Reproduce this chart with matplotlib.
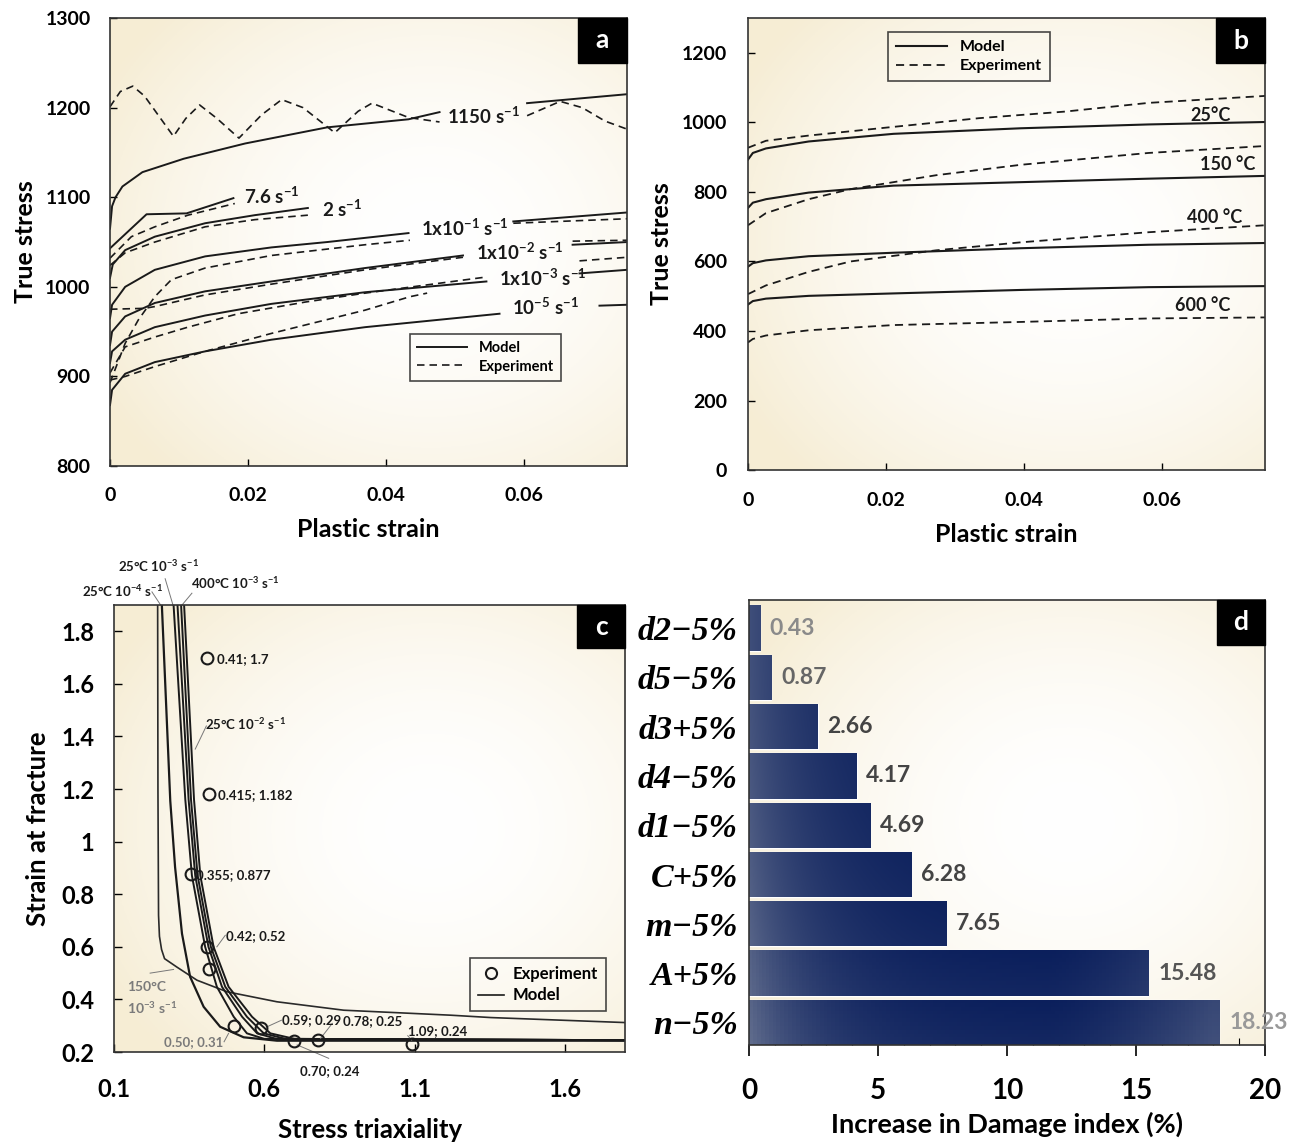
import numpy as np
import matplotlib
matplotlib.use('Agg')
import matplotlib.pyplot as plt
from matplotlib.patches import Rectangle
from matplotlib.lines import Line2D
from matplotlib.ticker import MultipleLocator

plt.rcParams['font.family'] = ['Lato', 'DejaVu Sans']
plt.rcParams['font.weight'] = 'bold'
plt.rcParams['mathtext.default'] = 'regular'

nan = np.nan

# ---- panel a : strain-rate curves (plastic strain, true stress) ----
a_m1150_s = [0.0, 0.0003, 0.0008, 0.0018, 0.0047, 0.0107, 0.0196, 0.0315, 0.0433, 0.0478, nan, 0.0605, 0.075]
a_m1150_v = [1065, 1090, 1100, 1112, 1128, 1143, 1160, 1178, 1187, 1195, nan, 1205, 1215]
a_e1150_s = [0.0, 0.0015, 0.0033, 0.005, 0.0092, 0.011, 0.013, 0.0155, 0.0187, 0.022, 0.0249, 0.028, 0.0326,
             0.036, 0.038, 0.0433, 0.0478, nan, 0.0605, 0.0653, 0.0685, 0.0718, 0.075]
a_e1150_v = [1201, 1218, 1224, 1213, 1168, 1188, 1203, 1188, 1166, 1192, 1209, 1200, 1172,
             1196, 1205, 1189, 1184, nan, 1191, 1207, 1200, 1185, 1176]
a_m76_s = [0.0, 0.0053, 0.0111, 0.0179]
a_m76_v = [1043, 1081, 1082, 1099]
a_e76_s = [0.0, 0.0031, 0.0065, 0.0113, 0.0181]
a_e76_v = [1032, 1056, 1067, 1080, 1093]
a_m2_s = [0.0, 0.0004, 0.0022, 0.0065, 0.0138, 0.021, 0.0287]
a_m2_v = [1010, 1025, 1041, 1056, 1071, 1080, 1088]
a_e2_s = [0.0, 0.0022, 0.0065, 0.0138, 0.021, 0.0287]
a_e2_v = [1024, 1038, 1050, 1067, 1075, 1080]
a_m1e1_s = [0.0, 0.0003, 0.0022, 0.0065, 0.0138, 0.0234, 0.0315, 0.0433, nan, 0.0585, 0.075]
a_m1e1_v = [965, 980, 1000, 1019, 1034, 1044, 1050, 1060, nan, 1073, 1083]
a_e1e1_s = [0.0, 0.0007, 0.0022, 0.0041, 0.0065, 0.0089, 0.0138, 0.0234, 0.037, 0.0435, nan, 0.0585, 0.075]
a_e1e1_v = [893, 907, 937, 963, 989, 1008, 1021, 1035, 1047, 1052, nan, 1071, 1076]
a_m1e2_s = [0.0, 0.0003, 0.0022, 0.0065, 0.0138, 0.0234, 0.037, 0.0512, nan, 0.0671, 0.075]
a_m1e2_v = [935, 950, 967, 982, 995, 1006, 1021, 1035, nan, 1047, 1050]
a_e1e2_s = [0.0, 0.005, 0.0065, 0.0138, 0.0234, 0.037, 0.0512, nan, 0.0671, 0.075]
a_e1e2_v = [975, 976, 978, 991, 1003, 1019, 1033, nan, 1051, 1052]
a_m1e3_s = [0.0, 0.0003, 0.0022, 0.0065, 0.0138, 0.0234, 0.037, 0.0546, nan, 0.0681, 0.075]
a_m1e3_v = [915, 928, 941, 955, 968, 981, 994, 1006, nan, 1015, 1019]
a_e1e3_s = [0.0, 0.0022, 0.0065, 0.0113, 0.0186, 0.0283, 0.037, 0.0546, nan, 0.0681, 0.075]
a_e1e3_v = [904, 933, 944, 955, 970, 983, 993, 1011, nan, 1029, 1033]
a_m1e5_s = [0.0, 0.0003, 0.0022, 0.0065, 0.0138, 0.0234, 0.037, 0.0565, nan, 0.071, 0.075]
a_m1e5_v = [868, 885, 903, 916, 928, 941, 955, 970, nan, 979, 980]
a_e1e5_s = [0.0, 0.0022, 0.0065, 0.0138, 0.0234, 0.037, 0.0435, 0.046]
a_e1e5_v = [896, 900, 911, 928, 948, 974, 989, 993]
a_rate_labels = ['1150 s$^{-1}$', '7.6 s$^{-1}$', '2 s$^{-1}$', '1x10$^{-1}$ s$^{-1}$',
                 '1x10$^{-2}$ s$^{-1}$', '1x10$^{-3}$ s$^{-1}$', '10$^{-5}$ s$^{-1}$']
a_label_s = [0.0542, 0.0235, 0.0336, 0.0515, 0.0595, 0.0628, 0.0632]
a_label_v = [1191, 1101, 1087, 1066, 1039, 1010, 977]

# ---- panel b : temperature curves ----
b_s_m = [0.0, 0.0007, 0.0026, 0.0088, 0.0211, 0.0396, 0.0581, 0.075]
b_m25_v = [893, 912, 925, 945, 967, 983, 994, 1001]
b_m150_v = [754, 769, 779, 798, 818, 828, 838, 846]
b_m400_v = [585, 595, 603, 615, 625, 638, 648, 653]
b_m600_v = [476, 486, 493, 501, 508, 518, 526, 529]
b_e25_s = [0.0, 0.0026, 0.0088, 0.0211, 0.0335, 0.046, 0.0581, 0.075]
b_e25_v = [927, 947, 962, 987, 1012, 1031, 1056, 1076]
b_e150_s = [0.0, 0.0026, 0.0088, 0.0149, 0.0273, 0.0396, 0.0581, 0.075]
b_e150_v = [704, 739, 779, 808, 848, 878, 912, 932]
b_e400_s = [0.0, 0.0026, 0.0088, 0.0149, 0.0273, 0.0396, 0.0581, 0.075]
b_e400_v = [506, 531, 570, 600, 632, 655, 684, 704]
b_e600_s = [0.0, 0.0007, 0.0026, 0.0088, 0.0211, 0.0396, 0.0581, 0.075]
b_e600_v = [367, 377, 387, 402, 417, 426, 436, 439]
b_temp_labels = ['25°C', '150 °C', '400 °C', '600 °C']
b_label_s = [0.0671, 0.0696, 0.0677, 0.0659]
b_label_v = [1021, 878, 727, 473]

# ---- panel c : fracture locus (stress triaxiality, strain at fracture) ----
c_150_x = [0.245, 0.246, 0.248, 0.251, 0.258, 0.268, 0.309, 0.376, 0.476, 0.642, 0.864, 1.22, 1.354, 1.8]
c_150_y = [1.9, 1.2, 0.72, 0.64, 0.59, 0.555, 0.523, 0.473, 0.429, 0.391, 0.359, 0.340, 0.331, 0.312]
c_25r4_x = [0.259, 0.287, 0.303, 0.326, 0.353, 0.398, 0.453, 0.531, 0.642, 1.8]
c_25r4_y = [1.9, 1.155, 0.903, 0.65, 0.486, 0.372, 0.296, 0.256, 0.243, 0.243]
c_loc_y = [1.9, 1.16, 0.871, 0.6, 0.448, 0.334, 0.271, 0.25, 0.245]
c_loc1_x = [0.298, 0.337, 0.359, 0.403, 0.442, 0.498, 0.542, 0.60, 1.8]
c_loc2_x = [0.311, 0.348, 0.370, 0.414, 0.459, 0.526, 0.576, 0.64, 1.8]
c_loc3_x = [0.323, 0.356, 0.378, 0.422, 0.470, 0.542, 0.598, 0.67, 1.8]
c_loc4_x = [0.333, 0.366, 0.387, 0.431, 0.481, 0.559, 0.620, 0.70, 1.8]
c_exp_x = [0.41, 0.415, 0.355, 0.41, 0.415, 0.50, 0.59, 0.70, 0.78, 1.09]
c_exp_y = [1.70, 1.182, 0.877, 0.60, 0.515, 0.30, 0.29, 0.24, 0.245, 0.23]

# ---- panel d : sensitivity ----
d_params = ['d2−5%', 'd5−5%', 'd3+5%', 'd4−5%', 'd1−5%', 'C+5%', 'm−5%', 'A+5%', 'n−5%']
d_increase = [0.43, 0.87, 2.66, 4.17, 4.69, 6.28, 7.65, 15.48, 18.23]

INK = '#1a1a1a'
DASH = (0, (4.5, 3))


def add_panel(fig, rect):
    # cream vignette behind the plotting area
    bg = fig.add_axes(rect, zorder=0)
    yy, xx = np.mgrid[0:1:200j, 0:1:200j]
    r = np.sqrt((xx - 0.62) ** 2 + (yy - 0.5) ** 2) / 0.72
    t = np.clip(r, 0, 1)[..., None] ** 1.8
    cream = np.array([0.965, 0.93, 0.835])
    img = (1 - t) * np.ones(3) + t * cream
    bg.imshow(img, extent=(0, 1, 0, 1), aspect='auto', origin='lower')
    bg.axis('off')
    ax = fig.add_axes(rect, zorder=1)
    ax.patch.set_alpha(0)
    for sp in ax.spines.values():
        sp.set_linewidth(1.2)
        sp.set_color('#333333')
    return ax


def panel_tag(ax, letter, w, h):
    ax.add_patch(Rectangle((1 - w, 1 - h), w, h, transform=ax.transAxes,
                           color='black', zorder=6, clip_on=False))
    ax.text(1 - w / 2, 1 - h / 2, letter, transform=ax.transAxes, color='white',
            fontsize=19, fontweight='bold', ha='center', va='center', zorder=7)


fig = plt.figure(figsize=(13.05, 11.42), dpi=100)

# ================= a =================
ax = add_panel(fig, [0.0843, 0.5919, 0.3962, 0.3923])
models = [(a_m1150_s, a_m1150_v), (a_m76_s, a_m76_v), (a_m2_s, a_m2_v), (a_m1e1_s, a_m1e1_v),
          (a_m1e2_s, a_m1e2_v), (a_m1e3_s, a_m1e3_v), (a_m1e5_s, a_m1e5_v)]
exps = [(a_e1150_s, a_e1150_v), (a_e76_s, a_e76_v), (a_e2_s, a_e2_v), (a_e1e1_s, a_e1e1_v),
        (a_e1e2_s, a_e1e2_v), (a_e1e3_s, a_e1e3_v), (a_e1e5_s, a_e1e5_v)]
for s, v in models:
    ax.plot(s, v, color=INK, lw=1.4)
for s, v in exps:
    ax.plot(s, v, color=INK, lw=1.2, ls=DASH)
for lab, s, v in zip(a_rate_labels, a_label_s, a_label_v):
    ax.text(s, v, lab, fontsize=13.5, fontweight='bold', ha='center', va='center', color=INK)
ax.set_xlim(0, 0.075)
ax.set_ylim(800, 1300)
ax.set_xticks([0, 0.02, 0.04, 0.06], ['0', '0.02', '0.04', '0.06'])
ax.set_yticks(range(800, 1301, 100))
ax.tick_params(direction='in', labelsize=14, length=5, width=1)
ax.tick_params(axis='x', pad=15)
ax.tick_params(axis='y', pad=14)
ax.set_xlabel('Plastic strain', fontsize=18, fontweight='bold', labelpad=10)
ax.set_ylabel('True stress', fontsize=18, fontweight='bold', labelpad=6)
h = [Line2D([], [], color=INK, lw=1.4), Line2D([], [], color=INK, lw=1.2, ls=DASH)]
leg = ax.legend(h, ['Model', 'Experiment'], loc='upper left', bbox_to_anchor=(0.58, 0.295),
                borderaxespad=0, fancybox=False, edgecolor=INK, facecolor='none',
                fontsize=10.5, handlelength=3.4, labelspacing=0.3, borderpad=0.5)
leg.get_frame().set_linewidth(1.2)
panel_tag(ax, 'a', 0.095, 0.1)

# ================= b =================
ax = add_panel(fig, [0.5732, 0.5884, 0.3962, 0.3958])
for v in [b_m25_v, b_m150_v, b_m400_v, b_m600_v]:
    ax.plot(b_s_m, v, color=INK, lw=1.5)
for s, v in [(b_e25_s, b_e25_v), (b_e150_s, b_e150_v), (b_e400_s, b_e400_v), (b_e600_s, b_e600_v)]:
    ax.plot(s, v, color=INK, lw=1.3, ls=DASH)
for lab, s, v in zip(b_temp_labels, b_label_s, b_label_v):
    ax.text(s, v, lab, fontsize=13, fontweight='bold', ha='center', va='center', color=INK)
ax.set_xlim(0, 0.075)
ax.set_ylim(0, 1300)
ax.set_xticks([0, 0.02, 0.04, 0.06], ['0', '0.02', '0.04', '0.06'])
ax.set_yticks(range(0, 1201, 200))
ax.tick_params(direction='in', labelsize=14, length=5, width=1)
ax.tick_params(axis='x', pad=16)
ax.tick_params(axis='y', pad=15)
ax.set_xlabel('Plastic strain', fontsize=18, fontweight='bold', labelpad=10)
ax.set_ylabel('True stress', fontsize=18, fontweight='bold', labelpad=6)
h = [Line2D([], [], color=INK, lw=1.5), Line2D([], [], color=INK, lw=1.3, ls=DASH)]
leg = ax.legend(h, ['Model', 'Experiment'], loc='upper left', bbox_to_anchor=(0.271, 0.969),
                borderaxespad=0, fancybox=False, edgecolor=INK, facecolor='none',
                fontsize=11.5, handlelength=3.2, labelspacing=0.3, borderpad=0.5)
leg.get_frame().set_linewidth(1.2)
panel_tag(ax, 'b', 0.095, 0.1)

# ================= c =================
ax = add_panel(fig, [0.0874, 0.0788, 0.3916, 0.3914])
ax.plot(c_150_x, c_150_y, color='#2a2a2a', lw=1.2)
ax.plot(c_25r4_x, c_25r4_y, color=INK, lw=1.6)
for xs in [c_loc1_x, c_loc2_x, c_loc3_x, c_loc4_x]:
    ax.plot(xs, c_loc_y, color=INK, lw=1.4)
ax.plot(c_exp_x, c_exp_y, 'o', mfc='none', mec=INK, mew=1.5, ms=8.5, zorder=4)

small = dict(fontsize=9.5, fontweight='bold', color=INK, va='center')
ax.text(0.443, 1.695, '0.41; 1.7', ha='left', **small)
ax.text(0.447, 1.178, '0.415; 1.182', ha='left', **small)
ax.text(0.372, 0.872, '0.355; 0.877', ha='left', **small)
ax.text(0.473, 0.64, '0.42; 0.52', ha='left', **small)
ax.text(0.659, 0.323, '0.59; 0.29', ha='left', **small)
ax.text(0.862, 0.318, '0.78; 0.25', ha='left', **small)
ax.text(1.077, 0.28, '1.09; 0.24', ha='left', **small)
ax.text(0.817, 0.128, '0.70; 0.24', ha='center', clip_on=False, **small)
ax.text(0.464, 0.239, '0.50; 0.31', ha='right', fontsize=9.5, fontweight='bold', color='#7a7a7a', va='center')
ax.text(0.143, 0.403, '150°C\n10$^{-3}$ s$^{-1}$', ha='left', va='center', fontsize=10,
        fontweight='bold', color='#7a7a7a', linespacing=1.5)
ax.text(0.403, 1.447, '25°C 10$^{-2}$ s$^{-1}$', ha='left', **small)
ax.text(0.127, 1.952, '25°C 10$^{-4}$ s$^{-1}$', ha='center', clip_on=False, **small)
ax.text(0.247, 2.05, '25°C 10$^{-3}$ s$^{-1}$', ha='center', clip_on=False, **small)
ax.text(0.503, 1.982, '400°C 10$^{-3}$ s$^{-1}$', ha='center', clip_on=False, **small)
leaders = [((0.226, 0.255), (1.95, 1.9)), ((0.270, 0.296), (2.00, 1.9)), ((0.359, 0.326), (1.945, 1.9)),
           ((0.407, 0.370), (1.44, 1.352)), ((0.470, 0.442), (0.644, 0.60)),
           ((0.466, 0.481), (0.239, 0.271)), ((0.657, 0.609), (0.321, 0.296)),
           ((0.826, 0.787), (0.309, 0.252)), ((0.709, 0.814), (0.227, 0.176)),
           ((0.220, 0.298), (0.50, 0.514)), ((1.077, 1.09), (0.262, 0.245))]
for lx, ly in leaders:
    ax.plot(lx, ly, color='#777777', lw=0.7, clip_on=False)
ax.set_xlim(0.1, 1.8)
ax.set_ylim(0.2, 1.9)
ax.set_xticks([0.1, 0.6, 1.1, 1.6], ['0.1', '0.6', '1.1', '1.6'])
ax.set_yticks([0.2, 0.4, 0.6, 0.8, 1.0, 1.2, 1.4, 1.6, 1.8],
              ['0.2', '0.4', '0.6', '0.8', '1', '1.2', '1.4', '1.6', '1.8'])
ax.tick_params(direction='in', labelsize=17, length=6, width=1)
ax.tick_params(axis='x', pad=19)
ax.tick_params(axis='y', pad=14)
ax.set_xlabel('Stress triaxiality', fontsize=18.5, fontweight='bold', labelpad=12)
ax.set_ylabel('Strain at fracture', fontsize=18.5, fontweight='bold', labelpad=8)
h = [Line2D([], [], marker='o', ls='none', mfc='none', mec=INK, mew=1.5, ms=8),
     Line2D([], [], color=INK, lw=1.2)]
leg = ax.legend(h, ['Experiment', 'Model'], loc='upper left', bbox_to_anchor=(0.697, 0.21),
                borderaxespad=0, fancybox=False, edgecolor=INK, facecolor='none',
                fontsize=12, handlelength=1.6, handletextpad=0.5, labelspacing=0.35, borderpad=0.45)
leg.get_frame().set_linewidth(1.2)
panel_tag(ax, 'c', 0.094, 0.097)

# ================= d =================
ax = add_panel(fig, [0.5739, 0.0849, 0.3954, 0.3897])
pos = np.arange(len(d_params))[::-1]
bars = ax.barh(pos, d_increase, height=0.92, color='#10255f', edgecolor='white', lw=1)
dark = np.array([0.04, 0.12, 0.36])
light = np.array([0.46, 0.50, 0.60])
for k, bar in enumerate(bars):
    x0, y0 = bar.get_x(), bar.get_y()
    w, hh = bar.get_width(), bar.get_height()
    gx = np.linspace(x0, x0 + w, 120)
    gy = np.linspace(0, 1, 12)
    GX, GY = np.meshgrid(gx, gy)
    low = (8 - pos[k]) / 8.0
    m = 0.62 * np.exp(-GX / 2.6) * (0.8 + 0.35 * low) + 0.42 * np.clip((GX - 11.5) / 6.5, 0, 1) ** 1.5
    m = m + 0.08 * (1 - GY) * low
    m = np.clip(m, 0, 1)[..., None]
    img = (1 - m) * dark + m * light
    im = ax.imshow(img, extent=(x0, x0 + w, y0, y0 + hh), aspect='auto', origin='lower', zorder=2)
    im.set_clip_path(bar)
val_colors = ['#8a8a8a', '#666666', '#444444', '#444444', '#444444', '#444444', '#444444', '#555555', '#999999']
for p, v, c in zip(pos, d_increase, val_colors):
    ax.text(v + 0.38, p, f'{v:.2f}', ha='left', va='center', fontsize=16.5,
            fontweight='bold', color=c, zorder=3, clip_on=False)
ax.set_xlim(0, 20)
ax.set_ylim(-0.46, 8.57)
ax.set_yticks(pos, d_params, fontfamily='Liberation Serif', fontstyle='italic',
              fontweight='bold', fontsize=24.5)
ax.set_xticks([0, 5, 10, 15, 20])
ax.xaxis.set_minor_locator(MultipleLocator(1))
ax.tick_params(axis='x', which='major', direction='out', length=8, width=1.2, labelsize=20, pad=16)
ax.tick_params(axis='x', which='minor', direction='in', length=5, width=0.8)
ax.tick_params(axis='y', length=0, pad=8)
ax.set_xlabel('Increase in Damage index (%)', fontsize=19.5, fontweight='bold', labelpad=5)
panel_tag(ax, 'd', 0.093, 0.1)

fig.savefig('out.png', dpi=100)
